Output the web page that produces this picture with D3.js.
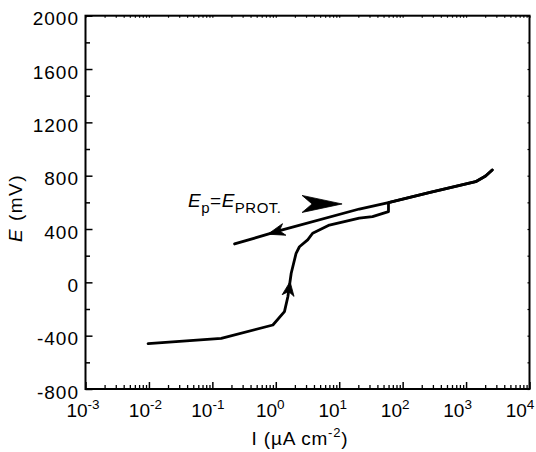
<!DOCTYPE html>
<html><head><meta charset="utf-8">
<script src="https://cdn.jsdelivr.net/npm/d3@7"></script>
<style>
html,body{margin:0;padding:0;background:#fff;}
svg{display:block;font-family:"Liberation Sans",Arial,Helvetica,sans-serif;}
</style></head><body>
<svg id="chart" width="536" height="452"></svg>
<script>
// Cyclic polarization scan (I in µA cm^-2, E in mV): forward branch, then reverse branch
const forwardI = [0.0097, 0.138, 0.9, 1.37, 1.55, 1.75, 2.09, 2.36, 3.18, 3.81, 7.0, 20.7, 33.5, 59.8, 59.8, 261, 1415, 2032, 2584];
const forwardE = [-460, -420, -320, -220, -108, 68, 218, 267, 318, 368, 430, 482, 493, 530, 598, 673, 755, 798, 843];
const reverseI = [2584, 2032, 1415, 261, 59.8, 20.7, 1.27, 0.224];
const reverseE = [843, 798, 755, 673, 598, 550, 393, 288];

// Axis ticks
const xMajorTicks = [1e-3, 1e-2, 1e-1, 1e0, 1e1, 1e2, 1e3, 1e4];
const xTickExponents = ["-3", "-2", "-1", "0", "1", "2", "3", "4"];
const yMajorTicks = [-800, -400, 0, 400, 800, 1200, 1600, 2000];
const yMinorTicks = [-600, -200, 200, 600, 1000, 1400, 1800];

// Direction arrows on the curve: tip position and the segment they follow
const scanArrowI = [1.68, 0.75];
const scanArrowE = [5, 361];
const scanArrowFromI = [1.55, 1.27];
const scanArrowFromE = [-108, 393];
const scanArrowToI = [1.75, 0.224];
const scanArrowToE = [68, 288];

// Annotation: protection potential label and its pointer
const labelI = [0.0413];
const labelE = [565];
const pointerI = [11.1];
const pointerE = [588];

const svg = d3.select("#chart");
const plotLeft = 85.5, plotRight = 529.5, plotTop = 15.7, plotBottom = 389;

const x = d3.scaleLog().domain([1e-3, 1e4]).range([plotLeft, plotRight]);
const y = d3.scaleLinear().domain([-800, 2000]).range([plotBottom, plotTop]);

const xMinorTicks = [];
for (let d = -3; d < 4; d++) for (let m = 2; m <= 9; m++) xMinorTicks.push(m * Math.pow(10, d));

const axisFont = 19;

// Bottom axis: minor ticks
svg.append("g").attr("transform", `translate(0,${plotBottom})`)
  .call(d3.axisBottom(x).tickValues(xMinorTicks).tickSize(-4).tickFormat(""))
  .call(g => g.select(".domain").remove())
  .call(g => g.selectAll("line").attr("stroke", "#000").attr("stroke-width", 1.3));

// Bottom axis: major ticks and labels 10^n
svg.append("g").attr("transform", `translate(0,${plotBottom})`)
  .call(d3.axisBottom(x).tickValues(xMajorTicks).tickSizeInner(-7).tickSizeOuter(0).tickPadding(14.5).tickFormat(""))
  .call(g => g.select(".domain").remove())
  .call(g => g.selectAll("line").attr("stroke", "#000").attr("stroke-width", 1.5))
  .call(g => g.selectAll(".tick text").each(function(d, i) {
    const t = d3.select(this).attr("x", -3 - i).attr("fill", "#000")
      .attr("font-size", axisFont).attr("font-family", null);
    t.append("tspan").text("10");
    t.append("tspan").attr("dy", -8).attr("font-size", 13.5).text(xTickExponents[i]);
  }));

// Top edge ticks
svg.append("g").attr("transform", `translate(0,${plotTop})`)
  .call(d3.axisTop(x).tickValues(xMajorTicks.concat(xMinorTicks)).tickSize(-2).tickFormat(""))
  .call(g => g.select(".domain").remove())
  .call(g => g.selectAll("line").attr("stroke", "#000").attr("stroke-width", 1.2));

// Left axis: minor ticks
svg.append("g").attr("transform", `translate(${plotLeft},0)`)
  .call(d3.axisLeft(y).tickValues(yMinorTicks).tickSize(-4.5).tickFormat(""))
  .call(g => g.select(".domain").remove())
  .call(g => g.selectAll("line").attr("stroke", "#000").attr("stroke-width", 1.5));

// Left axis: major ticks and labels (plain hyphen for negatives)
svg.append("g").attr("transform", `translate(${plotLeft},0)`)
  .call(d3.axisLeft(y).tickValues(yMajorTicks).tickSizeInner(-7).tickSizeOuter(0).tickPadding(6.5).tickFormat(d => String(d)))
  .call(g => g.select(".domain").remove())
  .call(g => g.selectAll("line").attr("stroke", "#000").attr("stroke-width", 1.5))
  .call(g => g.selectAll(".tick text").attr("y", 3).attr("fill", "#000")
    .attr("font-size", axisFont).attr("font-family", null).attr("letter-spacing", 1));

// Right edge ticks
svg.append("g").attr("transform", `translate(${plotRight},0)`)
  .call(d3.axisRight(y).tickValues(yMajorTicks.concat(yMinorTicks)).tickSize(-2).tickFormat(""))
  .call(g => g.select(".domain").remove())
  .call(g => g.selectAll("line").attr("stroke", "#000").attr("stroke-width", 1.2));

// Plot frame
svg.append("rect")
  .attr("x", plotLeft).attr("y", plotTop)
  .attr("width", plotRight - plotLeft).attr("height", plotBottom - plotTop)
  .attr("fill", "none").attr("stroke", "#000").attr("stroke-width", 2);

// Curve
const line = d3.line().x(d => x(d[0])).y(d => y(d[1]));
const fwd = forwardI.map((v, i) => [v, forwardE[i]]);
const rev = reverseI.map((v, i) => [v, reverseE[i]]);
[fwd, rev].forEach(pts => {
  svg.append("path").attr("d", line(pts))
    .attr("fill", "none").attr("stroke", "#000").attr("stroke-width", 2.8)
    .attr("stroke-linejoin", "round").attr("stroke-linecap", "round");
});

// Barbed arrowhead with tip at origin, pointing along +x
function arrowHead(len, half, notch) {
  return `M0,0 L${-len},${-half} L${-notch},0 L${-len},${half} Z`;
}

scanArrowI.forEach((v, i) => {
  const tx = x(v), ty = y(scanArrowE[i]);
  const dx = x(scanArrowToI[i]) - x(scanArrowFromI[i]);
  const dy = y(scanArrowToE[i]) - y(scanArrowFromE[i]);
  const ang = Math.atan2(dy, dx) * 180 / Math.PI;
  const dims = i === 0 ? [14, 6, 10] : [17, 6, 12];
  svg.append("path").attr("d", arrowHead(...dims))
    .attr("transform", `translate(${tx},${ty}) rotate(${ang})`)
    .attr("fill", "#000").attr("stroke", "#000").attr("stroke-width", 0.8)
    .attr("stroke-linejoin", "round");
});

// Pointer arrow next to the label
svg.append("path").attr("d", arrowHead(40, 8.5, 30))
  .attr("transform", `translate(${x(pointerI[0])},${y(pointerE[0])})`)
  .attr("fill", "#000").attr("stroke", "#000").attr("stroke-width", 0.8)
  .attr("stroke-linejoin", "round");

// Label E_p = E_PROT.
const lab = svg.append("text")
  .attr("x", x(labelI[0])).attr("y", y(labelE[0]))
  .attr("font-size", 19).attr("letter-spacing", 0.5).attr("fill", "#000");
lab.append("tspan").attr("font-style", "italic").text("E");
lab.append("tspan").attr("font-size", 15).attr("dy", 6).text("p");
lab.append("tspan").attr("dy", -6).text("=");
lab.append("tspan").attr("font-style", "italic").text("E");
lab.append("tspan").attr("font-size", 15).attr("dy", 6).text("PROT.");

// Axis titles
const xt = svg.append("text")
  .attr("x", 300).attr("y", 445).attr("text-anchor", "middle")
  .attr("font-size", 19).attr("letter-spacing", 0.8).attr("fill", "#000");
xt.append("tspan").text("I (µA cm");
xt.append("tspan").attr("font-size", 13).attr("dy", -8).text("-2");
xt.append("tspan").attr("dy", 8).text(")");

const yt = svg.append("text")
  .attr("transform", "translate(22,208) rotate(-90)")
  .attr("text-anchor", "middle")
  .attr("font-size", 19).attr("letter-spacing", 1.5).attr("fill", "#000");
yt.append("tspan").attr("font-style", "italic").text("E");
yt.append("tspan").text(" (mV)");
</script>
</body></html>
